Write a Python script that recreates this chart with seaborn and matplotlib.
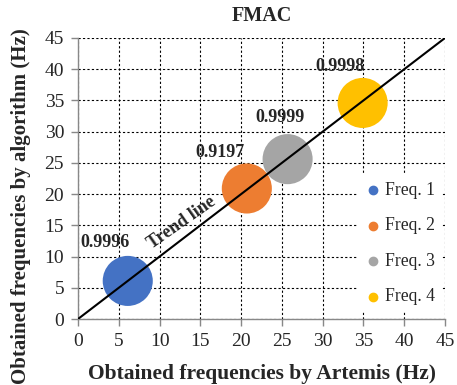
import matplotlib
matplotlib.use("Agg")
import matplotlib.pyplot as plt
import seaborn as sns
import pandas as pd

labels = ["Freq. 1", "Freq. 2", "Freq. 3", "Freq. 4"]
artemis = [6.1, 20.7, 25.7, 34.9]
algorithm = [6.1, 20.9, 25.6, 34.6]
fmac = ["0.9996", "0.9197", "0.9999", "0.9998"]
colors = ["#4472C4", "#ED7D31", "#A5A5A5", "#FFC000"]
ticks = [0, 5, 10, 15, 20, 25, 30, 35, 40, 45]

sns.set_theme(style="white")
plt.rcParams["font.family"] = ["Liberation Serif", "DejaVu Serif"]

df = pd.DataFrame({"x": artemis, "y": algorithm, "Freq": labels})

fig = plt.figure(figsize=(4.57, 3.85), dpi=100)
ax = fig.add_axes([78/457, 1 - 319/385, 367/457, 281/385])

ax.plot([0, 45], [0, 45], color="black", lw=1.5, zorder=3)
sns.scatterplot(data=df, x="x", y="y", hue="Freq", palette=colors, s=1300,
                edgecolor="none", ax=ax, zorder=2, legend=False)

for lab, c in zip(labels, colors):
    ax.scatter([], [], color=c, s=36, label=lab)

offsets = [(-2.8, 6.2), (-3.3, 5.8), (-0.9, 6.6), (-2.8, 5.9)]
for xv, yv, t, (dx, dy) in zip(artemis, algorithm, fmac, offsets):
    ax.text(xv + dx, yv + dy, t, fontsize=13, fontweight="bold", ha="center", va="center")

ax.text(12.75, 15.5, "Trend line", fontsize=13, fontweight="bold", rotation=35,
        ha="center", va="center", rotation_mode="anchor")

ax.set_xlim(0, 45)
ax.set_ylim(0, 45)
ax.set_xticks(ticks)
ax.set_yticks(ticks)
ax.tick_params(labelsize=14, length=5, width=1, color="#888888", pad=5,
               bottom=True, left=True, direction="out")
ax.grid(True, color="black", linestyle=(0, (2, 2)), lw=0.8)
ax.set_axisbelow(True)
for s in ["top", "right"]:
    ax.spines[s].set_visible(False)
for s in ["left", "bottom"]:
    ax.spines[s].set_color("#888888")
    ax.spines[s].set_linewidth(1)

ax.set_title("FMAC", fontsize=14.5, fontweight="bold", pad=12)
ax.set_xlabel("Obtained frequencies by Artemis (Hz)", fontsize=15.5, fontweight="bold", labelpad=10)
ax.set_ylabel("Obtained frequencies by algorithm (Hz)", fontsize=15, fontweight="bold")
ax.yaxis.set_label_coords(-0.128, 0.40)

leg = ax.legend(loc="center left", bbox_to_anchor=(0.74, 0.269), frameon=True,
                fontsize=12.7, handlelength=0.8, handletextpad=0.3, labelspacing=1.05,
                borderaxespad=0.5, fancybox=False, framealpha=1.0)
leg.get_frame().set_facecolor("white")
leg.get_frame().set_edgecolor("none")

fig.savefig("out.png", dpi=100)
